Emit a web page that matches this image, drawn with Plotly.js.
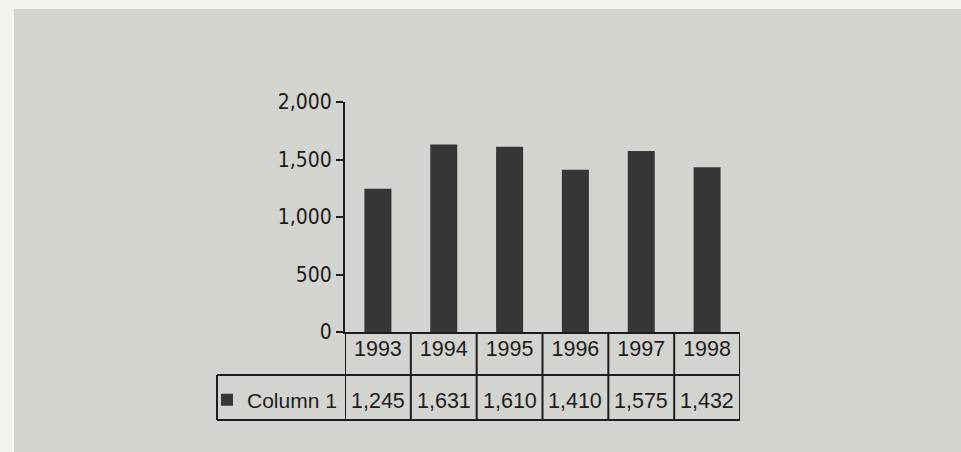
<!DOCTYPE html>
<html>
<head>
<meta charset="utf-8">
<script src="https://cdn.plot.ly/plotly-3.0.1.min.js"></script>
<style>html,body{margin:0;padding:0;background:#f4f2ee;}#chart{width:961px;height:452px;}</style>
</head>
<body>
<div id="chart"></div>
<script>
// ---- data ----
const years = ['1993', '1994', '1995', '1996', '1997', '1998'];
const values = [1245, 1631, 1610, 1410, 1575, 1432];
const seriesName = 'Column 1';
const yTicks = [0, 500, 1000, 1500, 2000];

// ---- styling ----
const W = 961, H = 452;
const M = {l: 345, r: 221, t: 102, b: 120};
const plotW = W - M.l - M.r, plotH = H - M.t - M.b;
const px2x = p => (p - M.l) / plotW;      // pixel -> paper x
const py2y = p => (H - M.b - p) / plotH;  // pixel -> paper y

const ink = '#1c1c1c';
const barColor = '#363636';
const bg = '#d3d3cf';
const paperWhite = '#f4f2ee';
const fmt = v => v.toLocaleString('en-US');

const rowMid = py2y(375);   // line between year row and value row
const rowBot = py2y(420);   // bottom of table
const tableLeft = px2x(217);

const shapes = [];
// photo background (grey card on white page edge)
shapes.push({type: 'rect', xref: 'paper', yref: 'paper', layer: 'below',
  x0: px2x(14), x1: px2x(W + 5), y0: py2y(H + 5), y1: py2y(9),
  fillcolor: bg, line: {width: 0}});
// table grid: vertical lines at category boundaries
for (let i = 0; i <= years.length; i++) {
  shapes.push({type: 'line', xref: 'x', yref: 'paper', x0: i - 0.5, x1: i - 0.5,
    y0: 0, y1: rowBot, line: {color: ink, width: 2}});
}
// horizontal lines
shapes.push({type: 'line', xref: 'paper', yref: 'paper', x0: tableLeft, x1: 1,
  y0: rowMid, y1: rowMid, line: {color: ink, width: 2}});
shapes.push({type: 'line', xref: 'paper', yref: 'paper', x0: tableLeft, x1: 1,
  y0: rowBot, y1: rowBot, line: {color: ink, width: 2}});
// legend cell left border
shapes.push({type: 'line', xref: 'paper', yref: 'paper', x0: tableLeft, x1: tableLeft,
  y0: rowMid, y1: rowBot, line: {color: ink, width: 2}});

const tableFont = {family: 'Liberation Sans, Arial, sans-serif', size: 21.5, color: ink};

const annotations = values.map((v, i) => ({
  xref: 'x', yref: 'paper', x: i, y: py2y(401),
  text: fmt(v), showarrow: false, font: tableFont, xanchor: 'center', yanchor: 'middle'
}));

const data = [{
  type: 'bar', x: years, y: values, name: seriesName,
  marker: {color: barColor, line: {width: 0}}, width: 0.41, showlegend: true,
  hoverinfo: 'x+y'
}];

const layout = {
  width: W, height: H,
  margin: {l: M.l, r: M.r, t: M.t, b: M.b, autoexpand: false},
  paper_bgcolor: paperWhite, plot_bgcolor: 'rgba(0,0,0,0)',
  showlegend: true,
  legend: {x: px2x(207), xanchor: 'left', y: py2y(400), yanchor: 'middle',
    bgcolor: 'rgba(0,0,0,0)', font: {family: tableFont.family, size: 21, color: ink}, borderwidth: 0},
  xaxis: {type: 'category', range: [-0.5, years.length - 0.5], showline: true, linecolor: ink,
    linewidth: 2, ticks: '', showgrid: false, zeroline: false, tickfont: tableFont,
    ticklabelstandoff: -4, fixedrange: true},
  yaxis: {range: [0, 2000], tickvals: yTicks, ticktext: yTicks.map(fmt), showline: true,
    linecolor: ink, linewidth: 2, ticks: 'outside', ticklen: 7, tickwidth: 2, tickcolor: ink,
    showgrid: false, zeroline: false,
    tickfont: {family: 'DejaVu Sans Condensed, sans-serif', size: 21, color: ink},
    fixedrange: true},
  shapes: shapes,
  annotations: annotations
};

Plotly.newPlot('chart', data, layout, {displayModeBar: false, staticPlot: true});
</script>
</body>
</html>
